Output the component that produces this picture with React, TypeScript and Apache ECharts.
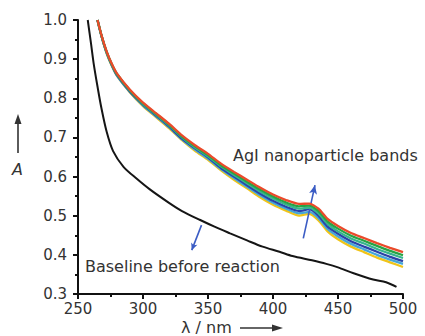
import React, { useEffect, useRef } from "react";
import * as echarts from "echarts";

const wavelengths = [265, 268, 272, 276, 280, 290, 300, 310, 320, 330, 340, 350, 360, 370, 380, 390, 400, 410, 420, 428, 435, 442, 450, 460, 470, 480, 490, 500];
const redBand = [1.0, 0.962, 0.92, 0.888, 0.863, 0.822, 0.789, 0.762, 0.735, 0.705, 0.68, 0.658, 0.633, 0.612, 0.592, 0.572, 0.554, 0.54, 0.53, 0.531, 0.518, 0.492, 0.474, 0.456, 0.443, 0.43, 0.418, 0.407];
const greenBand = [1.0, 0.961, 0.919, 0.887, 0.862, 0.82, 0.787, 0.76, 0.733, 0.702, 0.677, 0.655, 0.629, 0.608, 0.587, 0.567, 0.549, 0.534, 0.524, 0.526, 0.512, 0.485, 0.467, 0.449, 0.436, 0.423, 0.41, 0.399];
const tealBand = [1.0, 0.961, 0.918, 0.886, 0.861, 0.819, 0.785, 0.758, 0.731, 0.7, 0.674, 0.652, 0.626, 0.604, 0.583, 0.562, 0.544, 0.529, 0.518, 0.521, 0.506, 0.479, 0.46, 0.442, 0.429, 0.415, 0.403, 0.392];
const blueBand = [1.0, 0.96, 0.917, 0.885, 0.859, 0.817, 0.784, 0.756, 0.728, 0.697, 0.672, 0.649, 0.622, 0.6, 0.578, 0.557, 0.538, 0.523, 0.512, 0.517, 0.5, 0.472, 0.454, 0.435, 0.421, 0.408, 0.395, 0.384];
const lightBlueBand = [1.0, 0.96, 0.916, 0.884, 0.858, 0.816, 0.782, 0.754, 0.726, 0.695, 0.669, 0.646, 0.619, 0.596, 0.574, 0.552, 0.533, 0.518, 0.506, 0.51, 0.494, 0.466, 0.447, 0.428, 0.414, 0.4, 0.388, 0.377];
const yellowBand = [1.0, 0.96, 0.915, 0.883, 0.857, 0.815, 0.78, 0.752, 0.724, 0.693, 0.666, 0.643, 0.616, 0.592, 0.57, 0.547, 0.528, 0.513, 0.5, 0.505, 0.488, 0.46, 0.44, 0.421, 0.407, 0.393, 0.381, 0.369];

const baselineX = [257.5, 260, 262, 265, 268, 272, 277, 285, 295, 305, 320, 330, 344, 355, 367, 380, 392, 405, 415, 430, 441, 450, 462, 477, 487, 495];
const baselineY = [1.0, 0.94, 0.89, 0.83, 0.775, 0.715, 0.665, 0.625, 0.595, 0.568, 0.533, 0.512, 0.489, 0.472, 0.455, 0.437, 0.421, 0.408, 0.397, 0.386, 0.377, 0.368, 0.353, 0.337, 0.33, 0.318];

const baselineArrow = [[337.5, 0.412], [345, 0.476]];
const bandArrow = [[423.3, 0.442], [432.3, 0.578]];

const FONT = "DejaVu Sans";
const TEXT = "#333";

function pairs(xs: number[], ys: number[]) {
  return xs.map((x, i) => [x, ys[i]]);
}

export default function App() {
  const ref = useRef<HTMLDivElement>(null);
  useEffect(() => {
    if (!ref.current) return;
    const chart = echarts.init(ref.current, null, { renderer: "svg" });
    const band = (name: string, data: number[], color: string, z: number) => ({
      name,
      type: "line",
      data: pairs(wavelengths, data),
      symbol: "none",
      smooth: 0.2,
      z,
      lineStyle: { color, width: 2.3 },
    });
    chart.setOption({
      animation: false,
      grid: { left: 78, right: 22, top: 20, bottom: 42 },
      xAxis: {
        type: "value",
        min: 250,
        max: 500,
        interval: 50,
        axisLine: { lineStyle: { color: "#111", width: 2 } },
        axisTick: { length: 5, lineStyle: { color: "#111", width: 2 } },
        minorTick: { show: true, splitNumber: 2, length: 3, lineStyle: { color: "#111", width: 2 } },
        splitLine: { show: false },
        axisLabel: { fontFamily: FONT, fontSize: 15, color: TEXT, margin: 7 },
      },
      yAxis: {
        type: "value",
        min: 0.3,
        max: 1.0,
        interval: 0.1,
        axisLine: { show: true, lineStyle: { color: "#111", width: 2 } },
        axisTick: { show: true, length: 5, lineStyle: { color: "#111", width: 2 } },
        minorTick: { show: true, splitNumber: 2, length: 3, lineStyle: { color: "#111", width: 2 } },
        splitLine: { show: false },
        axisLabel: {
          fontFamily: FONT,
          fontSize: 15,
          color: TEXT,
          margin: 11,
          formatter: (v: number) => v.toFixed(1),
        },
      },
      series: [
        band("yellow", yellowBand, "#f0c419", 2),
        band("lightblue", lightBlueBand, "#45a6d8", 3),
        band("blue", blueBand, "#2a43a8", 4),
        band("teal", tealBand, "#37b48e", 5),
        band("green", greenBand, "#27a445", 6),
        {
          ...band("red", redBand, "#ea4a2a", 7),
          markLine: {
            silent: true,
            symbol: ["none", "arrow"],
            symbolSize: [6, 9],
            label: { show: false },
            lineStyle: { color: "#3b5cc4", width: 1.6, type: "solid" },
            data: [[{ coord: bandArrow[0] }, { coord: bandArrow[1] }]],
          },
        },
        {
          name: "baseline",
          type: "line",
          data: pairs(baselineX, baselineY),
          symbol: "none",
          smooth: 0.3,
          z: 8,
          lineStyle: { color: "#151515", width: 2 },
          markLine: {
            silent: true,
            symbol: ["arrow", "none"],
            symbolSize: [5, 7],
            label: { show: false },
            lineStyle: { color: "#3b5cc4", width: 1.6, type: "solid" },
            data: [[{ coord: baselineArrow[0] }, { coord: baselineArrow[1] }]],
          },
        },
      ],
      graphic: [
        {
          type: "text",
          left: 233,
          top: 147,
          style: { text: "AgI nanoparticle bands", font: `16px '${FONT}'`, fill: TEXT },
        },
        {
          type: "text",
          left: 85,
          top: 258,
          style: { text: "Baseline before reaction", font: `16px '${FONT}'`, fill: TEXT },
        },
        {
          type: "text",
          left: 12,
          top: 161,
          style: { text: "A", font: `italic 16px '${FONT}'`, fill: TEXT },
        },
        {
          type: "line",
          shape: { x1: 18, y1: 153, x2: 18, y2: 122 },
          style: { stroke: "#333", lineWidth: 1.6 },
        },
        {
          type: "polygon",
          shape: { points: [[14.5, 124], [21.5, 124], [18, 114]] },
          style: { fill: "#333" },
        },
        {
          type: "text",
          left: 181,
          top: 319,
          style: { text: "λ / nm", font: `16px '${FONT}'`, fill: TEXT },
        },
        {
          type: "line",
          shape: { x1: 240, y1: 328, x2: 274, y2: 328 },
          style: { stroke: "#333", lineWidth: 1.6 },
        },
        {
          type: "polygon",
          shape: { points: [[272, 324.5], [272, 331.5], [283, 328]] },
          style: { fill: "#333" },
        },
      ],
    });
    return () => chart.dispose();
  }, []);
  return (
    <div
      ref={ref}
      style={{ position: "fixed", left: 0, top: 0, width: 425, height: 336, background: "#fff" }}
    />
  );
}
